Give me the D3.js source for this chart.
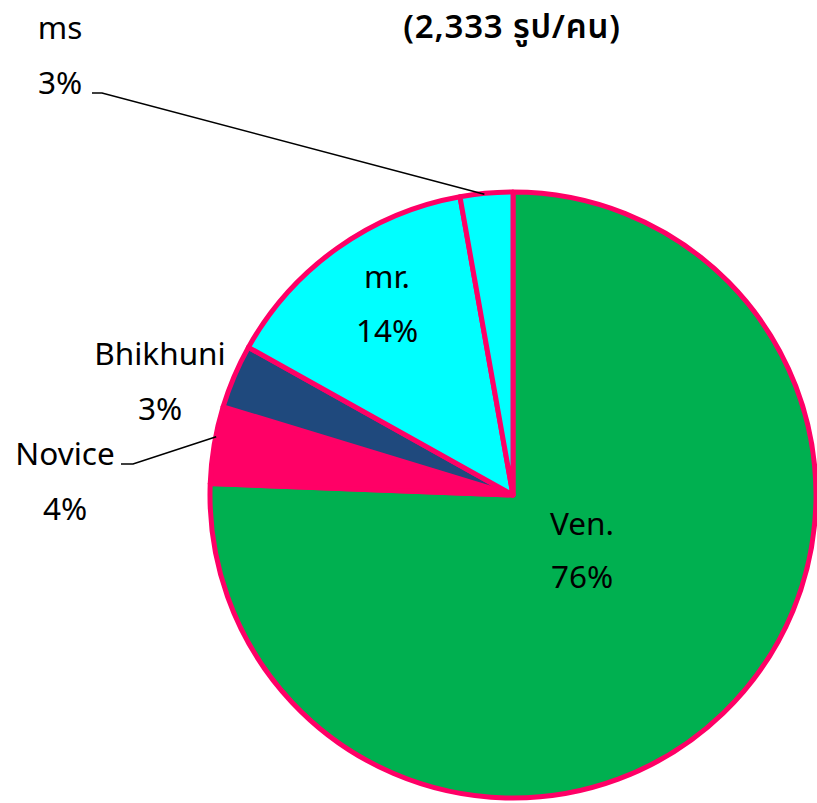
<!DOCTYPE html>
<html><head><meta charset="utf-8">
<script src="https://cdn.jsdelivr.net/npm/d3@7"></script>
<style>body{margin:0;background:#fff;}text{font-family:"Noto Sans Thai","Noto Sans","DejaVu Sans",sans-serif;}</style>
</head><body>
<svg id="c" width="817" height="803"></svg>
<script>
const categories = ["Ven.", "Novice", "Bhikhuni", "mr.", "ms"];
const values = [75.6, 4.1, 3.4, 14.1, 2.8];
const labels = ["76%", "4%", "3%", "14%", "3%"];
const colors = ["#00B050", "#FF0066", "#1F497D", "#00FFFF", "#00FFFF"];
const title = "(2,333 รูป/คน)";

const svg = d3.select("#c");
const cx = 513, cy = 495, r = 303;
const g = svg.append("g").attr("transform", `translate(${cx},${cy})`);
const pie = d3.pie().sort(null).value(d => d)(values);
const arc = d3.arc().innerRadius(0).outerRadius(r);
g.selectAll("path").data(pie).join("path")
  .attr("d", arc).attr("fill", (d,i) => colors[i])
  .attr("stroke", "#FF0066").attr("stroke-width", 5).attr("stroke-linejoin","round");

svg.append("text").attr("x", 512).attr("y", 38).attr("text-anchor","middle")
  .attr("font-size", 33).attr("font-weight", 600).attr("letter-spacing", 0.8).text(title);

const lp = [
  {x: 582, y1: 535, y2: 588},
  {x: 65, y1: 465, y2: 520},
  {x: 160, y1: 365, y2: 420},
  {x: 387, y1: 288, y2: 342},
  {x: 60, y1: 39, y2: 94}
];
const lg = svg.append("g").attr("font-size", 31.5).attr("font-weight", 400).attr("text-anchor","middle").attr("fill","#000");
categories.forEach((c,i) => {
  lg.append("text").attr("x", lp[i].x).attr("y", lp[i].y1).text(c);
  lg.append("text").attr("x", lp[i].x).attr("y", lp[i].y2).text(labels[i]);
});

const edge = (i) => { const a = (pie[i].startAngle + pie[i].endAngle)/2; return [cx + Math.sin(a)*r, cy - Math.cos(a)*r]; };
const e4 = edge(4), e1 = edge(1);
svg.append("polyline").attr("points", `92,93 102,93 ${e4[0]-2},${e4[1]+1}`)
  .attr("fill","none").attr("stroke","#000").attr("stroke-width",1.6);
svg.append("polyline").attr("points", `121,464 133,464 ${e1[0]+2},${e1[1]-8}`)
  .attr("fill","none").attr("stroke","#000").attr("stroke-width",1.6);
</script>
</body></html>
